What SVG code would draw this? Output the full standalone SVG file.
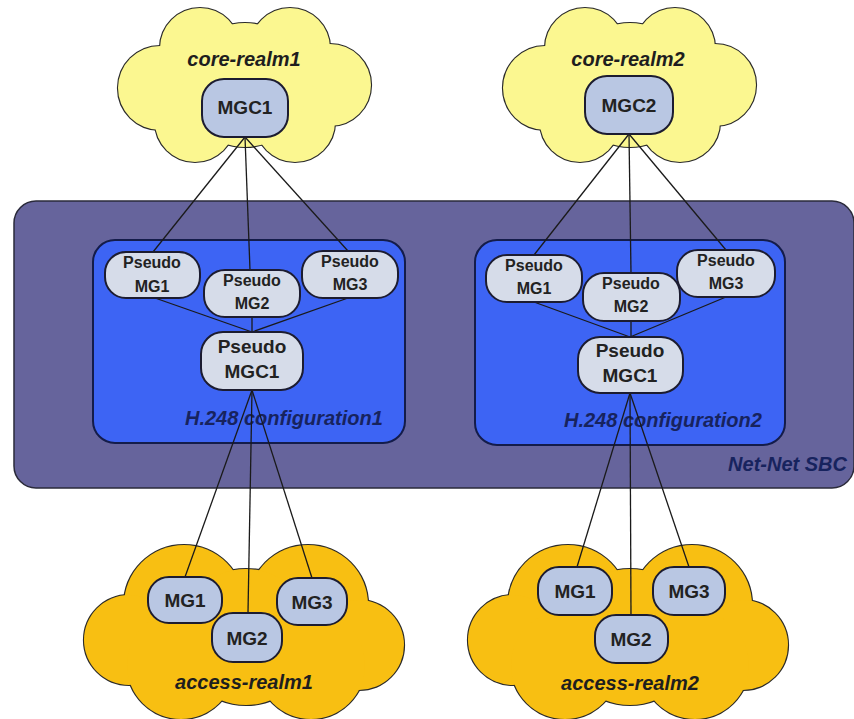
<svg xmlns="http://www.w3.org/2000/svg" width="854" height="719" viewBox="0 0 854 719">
<style>
.cs circle{fill:none;stroke:#2a2a2a;stroke-width:2.2}
.cf circle{stroke:none}
.node{fill:#b9c7e3;stroke:#1c1c30;stroke-width:2}
.pnode{fill:#d6dce9;stroke:#1c1c30;stroke-width:2}
.t{font-family:"Liberation Sans",Arial,sans-serif;font-weight:bold;fill:#222;text-anchor:middle}
.lbl{font-family:"Liberation Sans",Arial,sans-serif;font-weight:bold;font-style:italic;fill:#1e1e1e;text-anchor:middle;font-size:20px}
.cfg{font-family:"Liberation Sans",Arial,sans-serif;font-weight:bold;font-style:italic;fill:#17235e;font-size:20px}
.conn line{stroke:#1a1a1a;stroke-width:1.3}
</style>
<defs>
<g id="coreShape">
<g class="cs">
<circle cx="-45" cy="48" r="40"/><circle cx="45" cy="48" r="40"/><circle cx="-85" cy="88" r="42"/><circle cx="85" cy="85" r="41"/><circle cx="-50" cy="122" r="40"/><circle cx="50" cy="122" r="40"/><circle cx="0" cy="85" r="62"/>
</g>
<g class="cf">
<circle cx="-45" cy="48" r="40"/><circle cx="45" cy="48" r="40"/><circle cx="-85" cy="88" r="42"/><circle cx="85" cy="85" r="41"/><circle cx="-50" cy="122" r="40"/><circle cx="50" cy="122" r="40"/><circle cx="0" cy="85" r="62"/>
</g>
</g>
<g id="accShape">
<g class="cs">
<circle cx="-62" cy="605" r="60"/><circle cx="62" cy="605" r="60"/><circle cx="0" cy="637" r="68"/><circle cx="-117" cy="640" r="45"/><circle cx="113" cy="645" r="45"/><circle cx="-65" cy="665" r="54"/><circle cx="65" cy="665" r="54"/>
</g>
<g class="cf">
<circle cx="-62" cy="605" r="60"/><circle cx="62" cy="605" r="60"/><circle cx="0" cy="637" r="68"/><circle cx="-117" cy="640" r="45"/><circle cx="113" cy="645" r="45"/><circle cx="-65" cy="665" r="54"/><circle cx="65" cy="665" r="54"/>
</g>
</g>
</defs>
<rect width="854" height="719" fill="#ffffff"/>

<g id="core-realm1">
<use href="#coreShape" transform="translate(245,0)" fill="#fbf790"/>
<text class="lbl" x="244" y="66">core-realm1</text>
</g>
<g id="core-realm2">
<use href="#coreShape" transform="translate(630,0)" fill="#fbf790"/>
<text class="lbl" x="628" y="66">core-realm2</text>
</g>
<g id="access-realm1">
<use href="#accShape" transform="translate(246,0)" fill="#f8bf12"/>
<text class="lbl" x="244" y="689">access-realm1</text>
</g>
<g id="access-realm2">
<use href="#accShape" transform="translate(630,0)" fill="#f8bf12"/>
<text class="lbl" x="630" y="690">access-realm2</text>
</g>

<g id="net-net-sbc">
<rect x="14" y="201" width="840" height="287" rx="22" fill="#66649c" stroke="#2a2a3a" stroke-width="1.5"/>
<text class="cfg" x="847" y="471" text-anchor="end" font-size="19" fill="#191c48">Net-Net SBC</text>
</g>
<g id="h248-config1">
<rect x="93" y="240" width="312" height="203" rx="22" fill="#3d64f4" stroke="#141c4a" stroke-width="2"/>
<text class="cfg" x="185" y="425">H.248 configuration1</text>
</g>
<g id="h248-config2">
<rect x="475" y="240" width="310" height="205" rx="22" fill="#3d64f4" stroke="#141c4a" stroke-width="2"/>
<text class="cfg" x="564" y="427">H.248 configuration2</text>
</g>

<g id="connectors" class="conn">
<line x1="245" y1="137" x2="153" y2="252"/>
<line x1="245" y1="137" x2="250" y2="270"/>
<line x1="245" y1="137" x2="348" y2="251"/>
<line x1="629" y1="134" x2="534" y2="255"/>
<line x1="629" y1="134" x2="631" y2="273"/>
<line x1="629" y1="134" x2="726" y2="250"/>
<line x1="155" y1="298" x2="252" y2="332"/>
<line x1="252" y1="317" x2="252" y2="332"/>
<line x1="348" y1="298" x2="252" y2="332"/>
<line x1="534" y1="302" x2="630" y2="337"/>
<line x1="631" y1="321" x2="631" y2="337"/>
<line x1="726" y1="297" x2="630" y2="337"/>
<line x1="252" y1="390" x2="185" y2="577"/>
<line x1="252" y1="390" x2="248" y2="613"/>
<line x1="252" y1="390" x2="312" y2="578"/>
<line x1="630" y1="393" x2="577" y2="567"/>
<line x1="630" y1="393" x2="631" y2="615"/>
<line x1="630" y1="393" x2="689" y2="567"/>
</g>

<g id="mgc1"><rect class="node" x="202" y="79" width="86" height="58" rx="22"/><text class="t" x="245" y="114" font-size="19">MGC1</text></g>
<g id="mgc2"><rect class="node" x="585" y="76" width="88" height="58" rx="22"/><text class="t" x="629" y="112" font-size="19">MGC2</text></g>

<g id="c1-pseudo-mg1"><rect class="pnode" x="105" y="252" width="95" height="46" rx="21"/><text class="t" x="152" y="268" font-size="16">Pseudo</text><text class="t" x="152" y="292" font-size="16">MG1</text></g>
<g id="c1-pseudo-mg2"><rect class="pnode" x="204" y="270" width="96" height="47" rx="21"/><text class="t" x="252" y="286" font-size="16">Pseudo</text><text class="t" x="252" y="309" font-size="16">MG2</text></g>
<g id="c1-pseudo-mg3"><rect class="pnode" x="302" y="251" width="96" height="47" rx="21"/><text class="t" x="350" y="267" font-size="16">Pseudo</text><text class="t" x="350" y="290" font-size="16">MG3</text></g>
<g id="c1-pseudo-mgc1"><rect class="pnode" x="201" y="332" width="102" height="58" rx="22"/><text class="t" x="252" y="353" font-size="19">Pseudo</text><text class="t" x="252" y="378" font-size="19">MGC1</text></g>

<g id="c2-pseudo-mg1"><rect class="pnode" x="486" y="255" width="96" height="47" rx="21"/><text class="t" x="534" y="271" font-size="16">Pseudo</text><text class="t" x="534" y="294" font-size="16">MG1</text></g>
<g id="c2-pseudo-mg2"><rect class="pnode" x="583" y="273" width="97" height="48" rx="21"/><text class="t" x="631" y="289" font-size="16">Pseudo</text><text class="t" x="631" y="312" font-size="16">MG2</text></g>
<g id="c2-pseudo-mg3"><rect class="pnode" x="677" y="250" width="98" height="47" rx="21"/><text class="t" x="726" y="266" font-size="16">Pseudo</text><text class="t" x="726" y="289" font-size="16">MG3</text></g>
<g id="c2-pseudo-mgc1"><rect class="pnode" x="578" y="337" width="105" height="56" rx="22"/><text class="t" x="630" y="357" font-size="19">Pseudo</text><text class="t" x="630" y="382" font-size="19">MGC1</text></g>

<g id="a1-mg1"><rect class="node" x="148" y="577" width="74" height="46" rx="21"/><text class="t" x="185" y="607" font-size="19">MG1</text></g>
<g id="a1-mg2"><rect class="node" x="212" y="613" width="70" height="49" rx="21"/><text class="t" x="247" y="645" font-size="19">MG2</text></g>
<g id="a1-mg3"><rect class="node" x="277" y="578" width="70" height="47" rx="21"/><text class="t" x="312" y="609" font-size="19">MG3</text></g>
<g id="a2-mg1"><rect class="node" x="538" y="567" width="74" height="48" rx="21"/><text class="t" x="575" y="598" font-size="19">MG1</text></g>
<g id="a2-mg2"><rect class="node" x="595" y="615" width="73" height="48" rx="21"/><text class="t" x="631" y="646" font-size="19">MG2</text></g>
<g id="a2-mg3"><rect class="node" x="653" y="567" width="72" height="48" rx="21"/><text class="t" x="689" y="598" font-size="19">MG3</text></g>
</svg>
